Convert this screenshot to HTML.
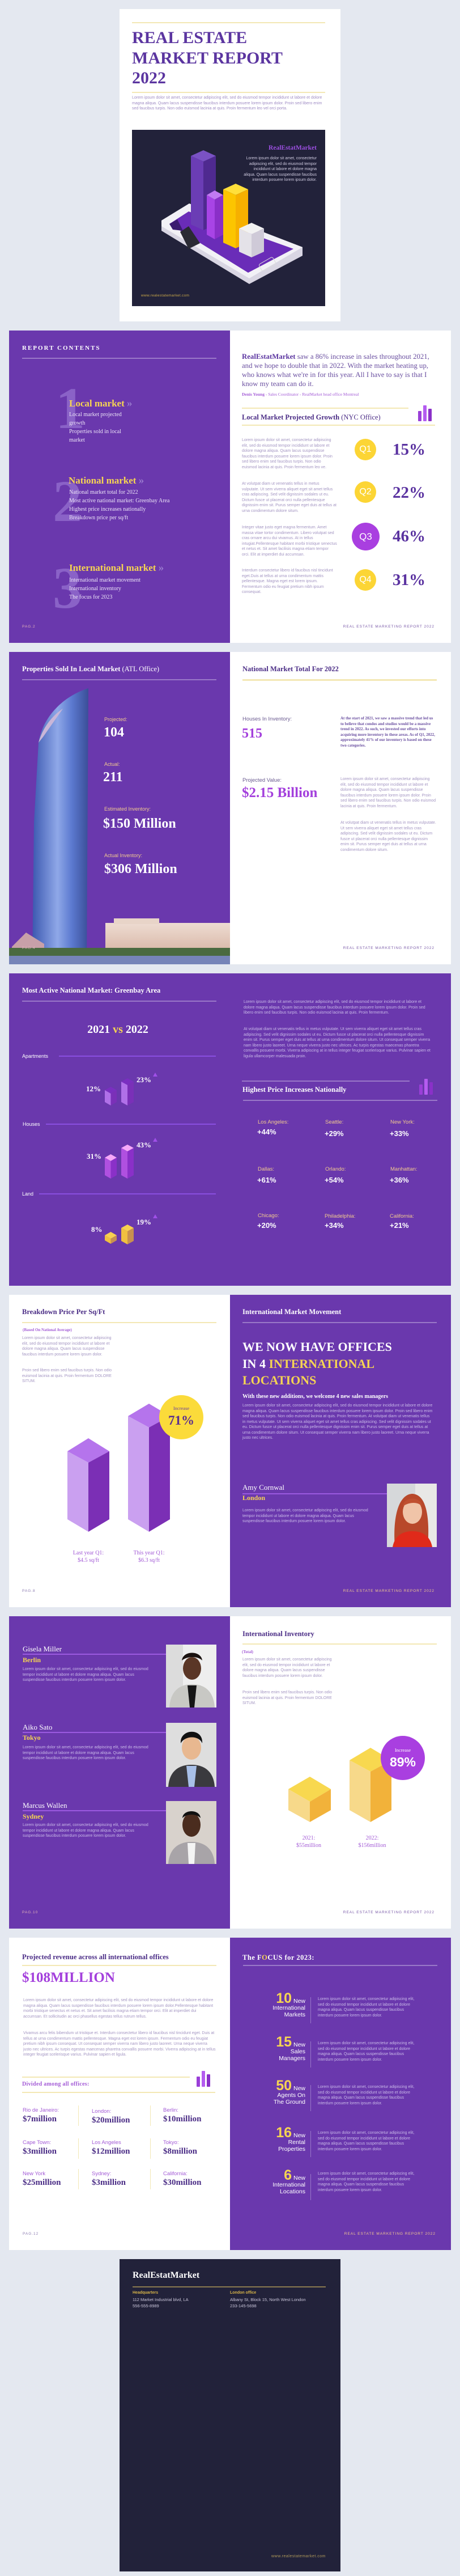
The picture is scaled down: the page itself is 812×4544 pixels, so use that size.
<!DOCTYPE html>
<html><head><meta charset="utf-8">
<style>
*{margin:0;padding:0;box-sizing:border-box}
body{width:812px;height:4544px;background:#e4e8f0;position:relative;overflow:hidden;font-family:"Liberation Sans",sans-serif}
.pg{position:absolute;width:390px;height:551px;overflow:hidden}
.pu{background:#6a38ad}
.wh{background:#fff}
.dk{background:#22223a}
.a{position:absolute}
.sf{font-family:"Liberation Serif",serif}
.h{position:absolute;left:23px;top:24px;font:bold 12.5px/12px "Liberation Serif",serif;white-space:nowrap}
.ln{position:absolute;left:23px;width:343px;top:48px;height:2px}
.lp{background:#9a78c8}
.ly{background:#f3e8b4}
.ft{position:absolute;top:519px;font-size:6.5px;line-height:7px;letter-spacing:1px;white-space:nowrap}
.tx{position:absolute;font-size:7px;line-height:9.5px;color:#a395c2}
.txl{position:absolute;font-size:7px;line-height:9.5px;color:#c9b9e8}
</style></head><body>

<!-- COVER -->
<div class="pg wh" style="left:211px;top:16px">
  <div class="a ly" style="left:22px;top:23px;width:341px;height:2px"></div>
  <div class="a sf" style="left:22px;top:33px;font-weight:bold;font-size:30px;line-height:35.5px;color:#5b35a0">REAL ESTATE<br>MARKET REPORT<br>2022</div>
  <div class="a ly" style="left:22px;top:146px;width:341px;height:2px"></div>
  <div class="tx" style="left:22px;top:152px;width:341px;color:#9f8cc4">Lorem ipsum dolor sit amet, consectetur adipiscing elit, sed do eiusmod tempor incididunt ut labore et dolore magna aliqua. Quam lacus suspendisse faucibus interdum posuere lorem ipsum dolor. Proin sed libero enim sed faucibus turpis. Non odio euismod lacinia at quis. Proin fermentum leo vel orci porta.</div>
  <div class="a dk" style="left:22px;top:213px;width:341px;height:311px">
    <svg width="341" height="311" style="position:absolute;left:0;top:0">
      <polygon points="52,160 101,130 301,207 301,222 207,272 52,178" fill="#d9d6e3"/>
      <polygon points="52,160 101,130 301,207 207,262 52,170" fill="#f2f1f6"/>
      <polygon points="66,166 100,144 285,210 205,252" fill="#6a2cb8"/>
      <polygon points="85,180 100,170 120,200 100,210" fill="#2a2a34"/>
      <polygon points="66,166 80,158 90,178 72,176" fill="#3a1a70"/>
      <rect x="225" y="230" width="28" height="14" rx="3" transform="rotate(-30 239 237)" fill="none" stroke="#ddd" stroke-width="1"/>
      <!-- tall purple -->
      <polygon points="104,46 126,36 148,46 126,56" fill="#7a52c4"/>
      <polygon points="104,46 126,56 126,177 104,167" fill="#6b3db5"/>
      <polygon points="126,56 148,46 148,167 126,177" fill="#4f2a90"/>
      <!-- violet -->
      <polygon points="132,115 146,107 161,115 146,123" fill="#c27af2"/>
      <polygon points="132,115 146,123 146,193 132,185" fill="#a844e6"/>
      <polygon points="146,123 161,115 161,185 146,193" fill="#8a2fc8"/>
      <!-- yellow -->
      <polygon points="161,105 183,95 205,105 183,115" fill="#ffdf3a"/>
      <polygon points="161,105 183,115 183,209 161,199" fill="#fcc500"/>
      <polygon points="183,115 205,105 205,199 183,209" fill="#f6b000"/>
      <!-- white -->
      <polygon points="189,174 211,164 233,174 211,184" fill="#f2f2f2"/>
      <polygon points="189,174 211,184 211,225 189,215" fill="#e4e2e8"/>
      <polygon points="211,184 233,174 233,215 211,225" fill="#cfcad8"/>
    </svg>
    <div class="a sf" style="right:15px;top:26px;font-weight:bold;font-size:11.5px;color:#9b4fe0">RealEstatMarket</div>
    <div class="a" style="right:15px;top:46px;width:130px;text-align:right;font-size:7px;line-height:9.6px;color:#cfcbe0">Lorem ipsum dolor sit amet, consectetur adipiscing elit, sed do eiusmod tempor incididunt ut labore et dolore magna aliqua. Quam lacus suspendisse faucibus interdum posuere lorem ipsum dolor.</div>
    <div class="a" style="left:16px;top:289px;font-size:6.5px;color:#c9a84a;letter-spacing:0.3px">www.realestatemarket.com</div>
  </div>
</div>

<!-- PAGE 2 LEFT -->
<div class="pg pu" style="left:16px;top:583px">
  <div class="a sf" style="left:23px;top:25px;font-weight:bold;font-size:11px;letter-spacing:2px;color:#fff">REPORT CONTENTS</div>
  <div class="ln lp"></div>
  <div class="a sf" style="left:82px;top:86px;font-weight:bold;font-size:104px;line-height:104px;color:#8a62c7">1</div>
  <div class="a sf" style="left:106px;top:120px;font-weight:bold;font-size:17px;line-height:17px;color:#f6d452;white-space:nowrap">Local market <span style="color:#9b7cd0;font-size:19px">»</span></div>
  <div class="a sf" style="left:106px;top:141px;width:112px;font-size:10px;line-height:15px;color:#ece4f7">Local market projected growth<br>Properties sold in local market</div>
  <div class="a sf" style="left:77px;top:250px;font-weight:bold;font-size:104px;line-height:104px;color:#8a62c7">2</div>
  <div class="a sf" style="left:105px;top:256px;font-weight:bold;font-size:17px;line-height:17px;color:#f6d452;white-space:nowrap">National market <span style="color:#9b7cd0;font-size:19px">»</span></div>
  <div class="a sf" style="left:106px;top:278px;width:230px;font-size:10px;line-height:15px;color:#ece4f7">National market total for 2022<br>Most active national market: Greenbay Area<br>Highest price increases nationally<br>Breakdown price per sq/ft</div>
  <div class="a sf" style="left:77px;top:403px;font-weight:bold;font-size:104px;line-height:104px;color:#8a62c7">3</div>
  <div class="a sf" style="left:106px;top:410px;font-weight:bold;font-size:17px;line-height:17px;color:#f6d452;white-space:nowrap">International market <span style="color:#9b7cd0;font-size:19px">»</span></div>
  <div class="a sf" style="left:106px;top:433px;width:230px;font-size:10px;line-height:15px;color:#ece4f7">International market movement<br>International inventory<br>The focus for 2023</div>
  <div class="ft" style="left:23px;color:#e0b0b8">PAG.2</div>
</div>

<!-- PAGE 2 RIGHT -->
<div class="pg wh" style="left:406px;top:583px">
  <div class="a sf" style="left:21px;top:38px;width:340px;font-size:12.8px;line-height:16px;color:#6a4fa0"><b style="color:#5b35a0">RealEstatMarket</b> saw a 86% increase in sales throughout 2021, and we hope to double that in 2022. With the market heating up, who knows what we're in for this year. All I have to say is that I know my team can do it.</div>
  <div class="a sf" style="left:21px;top:108px;font-size:7.5px;color:#a35bd6;white-space:nowrap"><b>Denis Young</b> - Sales Coordinator - RealMarket head office Montreal</div>
  <div class="a ly" style="left:21px;top:136px;width:294px;height:2px"></div>
  <div class="a sf" style="left:21px;top:147px;font-size:12.5px;line-height:12px;color:#4b2d86;white-space:nowrap"><b>Local Market Projected Growth</b> (NYC Office)</div>
  <svg class="a" style="left:330px;top:130px" width="30" height="32"><rect x="2" y="12" width="6" height="18" rx="1" fill="#9a3fd8"/><rect x="11" y="2" width="6" height="28" rx="1" fill="#b45cf0"/><rect x="20" y="8" width="6" height="22" rx="1" fill="#8a30c8"/></svg>
  <div class="a ly" style="left:21px;top:166px;width:341px;height:2px"></div>
  <div class="tx" style="left:21px;top:189px;width:168px">Lorem ipsum dolor sit amet, consectetur adipiscing elit, sed do eiusmod tempor incididunt ut labore et dolore magna aliqua. Quam lacus suspendisse faucibus interdum posuere lorem ipsum dolor. Proin sed libero enim sed faucibus turpis. Non odio euismod lacinia at quis. Proin fermentum leo ve.</div>
  <div class="tx" style="left:21px;top:266px;width:168px">At volutpat diam ut venenatis tellus in metus vulputate. Ut sem viverra aliquet eget sit amet tellus cras adipiscing. Sed velit dignissim sodales ut eu. Dictum fusce ut placerat orci nulla pellentesque dignissim enim sit. Purus semper eget duis at tellus at urna condimentum dolore situm.</div>
  <div class="tx" style="left:21px;top:343px;width:168px">Integer vitae justo eget magna fermentum. Amet massa vitae tortor condimentum. Libero volutpat sed cras ornare arcu dui vivamus. At in tellus intugiat.Pellentesque habitant morbi tristique senectus et netus et. Sit amet facilisis magna etiam tempor orci. Elit at imperdiet dui accumsan.</div>
  <div class="tx" style="left:21px;top:419px;width:168px">Interdum consectetur libero id faucibus nisl tincidunt eget.Duis at tellus at urna condimentum mattis pellentesque. Magna eget est lorem ipsum. Fermentum odio eu feugiat pretium nibh ipsum consequat.</div>
  <div class="a" style="left:220px;top:191px;width:38px;height:38px;border-radius:50%;background:#fcd535;color:#fff;font-size:16px;line-height:38px;text-align:center">Q1</div>
  <div class="a" style="left:220px;top:266px;width:38px;height:38px;border-radius:50%;background:#fcd535;color:#fff;font-size:16px;line-height:38px;text-align:center">Q2</div>
  <div class="a" style="left:215px;top:339px;width:49px;height:49px;border-radius:50%;background:#a93fe0;color:#fff;font-size:17px;line-height:49px;text-align:center">Q3</div>
  <div class="a" style="left:220px;top:421px;width:38px;height:38px;border-radius:50%;background:#fcd535;color:#fff;font-size:16px;line-height:38px;text-align:center">Q4</div>
  <div class="a sf" style="left:287px;top:196px;font-weight:bold;font-size:29px;line-height:28px;color:#5a32a0">15%</div>
  <div class="a sf" style="left:287px;top:272px;font-weight:bold;font-size:29px;line-height:28px;color:#5a32a0">22%</div>
  <div class="a sf" style="left:287px;top:349px;font-weight:bold;font-size:29px;line-height:28px;color:#5a32a0">46%</div>
  <div class="a sf" style="left:287px;top:426px;font-weight:bold;font-size:29px;line-height:28px;color:#5a32a0">31%</div>
  <div class="ft" style="right:29px;color:#7a5aa8">REAL ESTATE MARKETING REPORT 2022</div>
</div>

<!-- PAGE 3 LEFT -->
<div class="pg pu" style="left:16px;top:1150px">
  <div class="h" style="color:#fff">Properties Sold In Local Market <span style="font-weight:normal">(ATL Office)</span></div>
  <div class="ln lp"></div>
  <svg class="a" style="left:0;top:0" width="390" height="551">
    <defs>
      <linearGradient id="gt" x1="0" x2="1" y1="0" y2="0"><stop offset="0" stop-color="#3c58b0"/><stop offset="0.45" stop-color="#8fa8e8"/><stop offset="0.7" stop-color="#5c7ad0"/><stop offset="1" stop-color="#3a4e98"/></linearGradient>
      <linearGradient id="gb" x1="0" x2="0" y1="0" y2="1"><stop offset="0" stop-color="#eedcd2"/><stop offset="1" stop-color="#d9b8a8"/></linearGradient>
    </defs>
    <path d="M52,160 C58,120 90,80 140,64 L137,551 L41,551 L44,300 Z" fill="url(#gt)"/>
    <path d="M52,160 C60,130 80,110 95,100 L60,150 Z" fill="#c9b6d8"/>
    <rect x="170" y="478" width="220" height="50" fill="url(#gb)"/>
    <rect x="185" y="470" width="80" height="10" fill="#e8d4c8"/>
    <path d="M5,520 L30,495 L62,515 L62,530 L5,530 Z" fill="#c8a0a8"/>
    <rect x="0" y="522" width="390" height="14" fill="#4a6a40"/>
    <rect x="0" y="536" width="390" height="15" fill="#7684b8"/>
  </svg>
  <div class="a" style="left:168px;top:113px;font-size:9px;line-height:12px;color:#f2c98f">Projected:</div>
  <div class="a sf" style="left:167px;top:130px;font-weight:bold;font-size:24px;line-height:24px;color:#fff">104</div>
  <div class="a" style="left:168px;top:192px;font-size:9px;line-height:12px;color:#f2c98f">Actual:</div>
  <div class="a sf" style="left:166px;top:209px;font-weight:bold;font-size:24px;line-height:24px;color:#fff">211</div>
  <div class="a" style="left:168px;top:271px;font-size:9px;line-height:12px;color:#f2c98f">Estimated Inventory:</div>
  <div class="a sf" style="left:166px;top:291px;font-weight:bold;font-size:24px;line-height:24px;color:#fff;white-space:nowrap">$150 Million</div>
  <div class="a" style="left:168px;top:353px;font-size:9px;line-height:12px;color:#f2c98f">Actual Inventory:</div>
  <div class="a sf" style="left:168px;top:371px;font-weight:bold;font-size:24px;line-height:24px;color:#fff;white-space:nowrap">$306 Million</div>
  <div class="ft" style="left:23px;color:#e0b0b8">PAG.4</div>
</div>

<!-- PAGE 3 RIGHT -->
<div class="pg wh" style="left:406px;top:1150px">
  <div class="h" style="left:22px;color:#4b2d86">National Market Total For 2022</div>
  <div class="ln ly" style="left:22px;height:2.5px"></div>
  <div class="a" style="left:22px;top:113px;font-size:9.5px;line-height:12px;color:#6a5a90">Houses In Inventory:</div>
  <div class="a sf" style="left:21px;top:132px;font-weight:bold;font-size:24px;line-height:24px;color:#a33fdc">515</div>
  <div class="a sf" style="left:195px;top:113px;width:170px;font-weight:bold;font-size:7px;line-height:9.6px;color:#6a4fa0">At the start of 2021, we saw a massive trend that led us to believe that condos and studios would be a massive trend in 2022. As such, we invested our efforts into acquiring more inventory in these areas. As of Q1, 2022, approximately 41% of our inventory is based on these two categories.</div>
  <div class="a" style="left:22px;top:221px;font-size:9.5px;line-height:12px;color:#6a5a90">Projected Value:</div>
  <div class="a sf" style="left:21px;top:236px;font-weight:bold;font-size:25px;line-height:25px;color:#a33fdc;white-space:nowrap">$2.15 Billion</div>
  <div class="tx" style="left:195px;top:220px;width:170px">Lorem ipsum dolor sit amet, consectetur adipiscing elit, sed do eiusmod tempor incididunt ut labore et dolore magna aliqua. Quam lacus suspendisse faucibus interdum posuere lorem ipsum dolor. Proin sed libero enim sed faucibus turpis. Non odio euismod lacinia at quis. Proin fermentum.</div>
  <div class="tx" style="left:195px;top:297px;width:170px">At volutpat diam ut venenatis tellus in metus vulputate. Ut sem viverra aliquet eget sit amet tellus cras adipiscing. Sed velit dignissim sodales ut eu. Dictum fusce ut placerat orci nulla pellentesque dignissim enim sit. Purus semper eget duis at tellus at urna condimentum dolore situm.</div>
  <div class="ft" style="right:29px;color:#7a5aa8">REAL ESTATE MARKETING REPORT 2022</div>
</div>

<!-- PAGE 4 (spread purple) -->
<div class="pg pu" style="left:16px;top:1717px;width:780px">
  <div class="h" style="color:#fff">Most Active National Market: Greenbay Area</div>
  <div class="ln lp"></div>
  <div class="a sf" style="left:92px;top:89px;width:200px;text-align:center;font-weight:bold;font-size:20px;line-height:20px;color:#fff">2021 <span style="color:#f6d452">vs</span> 2022</div>
  <div class="a" style="left:23px;top:140px;font-size:9px;line-height:12px;color:#fff">Apartments</div>
  <div class="a" style="left:88px;top:145px;width:277px;height:1.5px;background:#8a4fe0"></div>
  <div class="a" style="left:24px;top:260px;font-size:9px;line-height:12px;color:#fff">Houses</div>
  <div class="a" style="left:65px;top:265px;width:300px;height:1.5px;background:#8a4fe0"></div>
  <div class="a" style="left:23px;top:383px;font-size:9px;line-height:12px;color:#fff">Land</div>
  <div class="a" style="left:53px;top:388px;width:312px;height:1.5px;background:#8a4fe0"></div>
  <svg class="a" style="left:0;top:0" width="390" height="551">
    <polygon points="169,206 179.5,200 190,206 179.5,212" fill="#7a2fc0"/>
    <polygon points="169,206 179.5,212 179.5,233 169,227" fill="#b070e8"/>
    <polygon points="179.5,212 190,206 190,227 179.5,233" fill="#7a30b8"/>
    <polygon points="198,191 209,185 220,191 209,197" fill="#7a2fc0"/>
    <polygon points="198,191 209,197 209,233 198,227" fill="#b070e8"/>
    <polygon points="209,197 220,191 220,227 209,233" fill="#7a30b8"/>
    <polygon points="254,182 258,175 262,182" fill="#a050e8"/>
    <polygon points="169,325 179.5,319 190,325 179.5,331" fill="#f5a8f8"/>
    <polygon points="169,325 179.5,331 179.5,362 169,356" fill="#b050e0"/>
    <polygon points="179.5,331 190,325 190,356 179.5,362" fill="#8a30c8"/>
    <polygon points="198,308 209,302 220,308 209,314" fill="#f5a8f8"/>
    <polygon points="198,308 209,314 209,362 198,356" fill="#b050e0"/>
    <polygon points="209,314 220,308 220,356 209,362" fill="#8a30c8"/>
    <polygon points="254,297 258,290 262,297" fill="#a050e8"/>
    <polygon points="169,462 179.5,456 190,462 179.5,468" fill="#f8d050"/>
    <polygon points="169,462 179.5,468 179.5,477 169,471" fill="#f0c040"/>
    <polygon points="179.5,468 190,462 190,471 179.5,477" fill="#c89050"/>
    <polygon points="198,449 209,443 220,449 209,455" fill="#f8d050"/>
    <polygon points="198,449 209,455 209,478 198,472" fill="#f0c040"/>
    <polygon points="209,455 220,449 220,472 209,478" fill="#c89050"/>
    <polygon points="254,432 258,425 262,432" fill="#a050e8"/>
  </svg>
  <div class="a sf" style="left:136px;top:197px;font-weight:bold;font-size:13px;line-height:14px;color:#fff">12%</div>
  <div class="a sf" style="left:225px;top:181px;font-weight:bold;font-size:13px;line-height:14px;color:#fff">23%</div>
  <div class="a sf" style="left:137px;top:316px;font-weight:bold;font-size:13px;line-height:14px;color:#fff">31%</div>
  <div class="a sf" style="left:225px;top:296px;font-weight:bold;font-size:13px;line-height:14px;color:#fff">43%</div>
  <div class="a sf" style="left:145px;top:445px;font-weight:bold;font-size:13px;line-height:14px;color:#fff">8%</div>
  <div class="a sf" style="left:225px;top:432px;font-weight:bold;font-size:13px;line-height:14px;color:#fff">19%</div>

  <div class="txl" style="left:414px;top:46px;width:335px">Lorem ipsum dolor sit amet, consectetur adipiscing elit, sed do eiusmod tempor incididunt ut labore et dolore magna aliqua. Quam lacus suspendisse faucibus interdum posuere lorem ipsum dolor. Proin sed libero enim sed faucibus turpis. Non odio euismod lacinia at quis. Proin fermentum.</div>
  <div class="txl" style="left:414px;top:94px;width:335px">At volutpat diam ut venenatis tellus in metus vulputate. Ut sem viverra aliquet eget sit amet tellus cras adipiscing. Sed velit dignissim sodales ut eu. Dictum fusce ut placerat orci nulla pellentesque dignissim enim sit. Purus semper eget duis at tellus at urna condimentum dolore situm. Ut consequat semper viverra nam libero justo laoreet. Urna neque viverra justo nec ultrices. Ac turpis egestas maecenas pharetra convallis posuere morbi. Viverra adipiscing at in tellus integer feugiat scelerisque varius. Pulvinar sapien et ligula ullamcorper malesuada proin.</div>
  <div class="a" style="left:411px;top:189px;width:296px;height:2px;background:#9a78c8"></div>
  <div class="a sf" style="left:412px;top:199px;font-weight:bold;font-size:12.5px;line-height:12px;color:#fff;white-space:nowrap">Highest Price Increases Nationally</div>
  <svg class="a" style="left:722px;top:184px" width="30" height="32"><rect x="2" y="12" width="6" height="18" rx="1" fill="#9a3fd8"/><rect x="11" y="2" width="6" height="28" rx="1" fill="#b45cf0"/><rect x="20" y="8" width="6" height="22" rx="1" fill="#8a30c8"/></svg>
  <div class="a" style="left:413px;top:223px;width:343px;height:2px;background:#9a78c8"></div>
  <div class="a" style="left:439px;top:257px;font-size:9.5px;line-height:12px;color:#f2c98f">Los Angeles:</div>
  <div class="a" style="left:558px;top:257px;font-size:9.5px;line-height:12px;color:#f2c98f">Seattle:</div>
  <div class="a" style="left:673px;top:257px;font-size:9.5px;line-height:12px;color:#f2c98f">New York:</div>
  <div class="a" style="left:438px;top:273px;font-weight:bold;font-size:13px;line-height:14px;color:#fff">+44%</div>
  <div class="a" style="left:557px;top:276px;font-weight:bold;font-size:13px;line-height:14px;color:#fff">+29%</div>
  <div class="a" style="left:672px;top:276px;font-weight:bold;font-size:13px;line-height:14px;color:#fff">+33%</div>
  <div class="a" style="left:439px;top:340px;font-size:9.5px;line-height:12px;color:#f2c98f">Dallas:</div>
  <div class="a" style="left:558px;top:340px;font-size:9.5px;line-height:12px;color:#f2c98f">Orlando:</div>
  <div class="a" style="left:673px;top:340px;font-size:9.5px;line-height:12px;color:#f2c98f">Manhattan:</div>
  <div class="a" style="left:438px;top:358px;font-weight:bold;font-size:13px;line-height:14px;color:#fff">+61%</div>
  <div class="a" style="left:557px;top:358px;font-weight:bold;font-size:13px;line-height:14px;color:#fff">+54%</div>
  <div class="a" style="left:672px;top:358px;font-weight:bold;font-size:13px;line-height:14px;color:#fff">+36%</div>
  <div class="a" style="left:439px;top:422px;font-size:9.5px;line-height:12px;color:#f2c98f">Chicago:</div>
  <div class="a" style="left:557px;top:423px;font-size:9.5px;line-height:12px;color:#f2c98f">Philadelphia:</div>
  <div class="a" style="left:672px;top:423px;font-size:9.5px;line-height:12px;color:#f2c98f">California:</div>
  <div class="a" style="left:438px;top:438px;font-weight:bold;font-size:13px;line-height:14px;color:#fff">+20%</div>
  <div class="a" style="left:557px;top:438px;font-weight:bold;font-size:13px;line-height:14px;color:#fff">+34%</div>
  <div class="a" style="left:672px;top:438px;font-weight:bold;font-size:13px;line-height:14px;color:#fff">+21%</div>
</div>

<!-- PAGE 5 LEFT -->
<div class="pg wh" style="left:16px;top:2284px">
  <div class="h" style="color:#4b2d86">Breakdown Price Per Sq/Ft</div>
  <div class="ln ly"></div>
  <div class="a sf" style="left:24px;top:58px;font-weight:bold;font-size:7px;color:#a35bd6">(Based On National Average)</div>
  <div class="tx" style="left:23px;top:72px;width:168px">Lorem ipsum dolor sit amet, consectetur adipiscing elit, sed do eiusmod tempor incididunt ut labore et dolore magna aliqua. Quam lacus suspendisse faucibus interdum posuere lorem ipsum dolor.</div>
  <div class="tx" style="left:23px;top:129px;width:160px">Proin sed libero enim sed faucibus turpis. Non odio euismod lacinia at quis. Proin fermentum DOLORE SITUM.</div>
  <svg class="a" style="left:0;top:0" width="390" height="551">
    <polygon points="103,276 140,253 177,276 140,296" fill="#b574ec"/>
    <polygon points="103,276 140,296 140,418 103,396" fill="#caa0f0"/>
    <polygon points="140,296 177,276 177,396 140,418" fill="#7b2fb5"/>
    <polygon points="210,214 247,192 284,214 247,234" fill="#b574ec"/>
    <polygon points="210,214 247,234 247,418 210,396" fill="#caa0f0"/>
    <polygon points="247,234 284,214 284,396 247,418" fill="#7b2fb5"/>
  </svg>
  <div class="a" style="left:265px;top:177px;width:78px;height:78px;border-radius:50%;background:#fbdb3a"></div>
  <div class="a sf" style="left:265px;top:195px;width:78px;text-align:center;font-size:8.5px;color:#6a3fa0">Increase</div>
  <div class="a sf" style="left:265px;top:210px;width:78px;text-align:center;font-weight:bold;font-size:23px;line-height:24px;color:#5a2d90">71%</div>
  <div class="a sf" style="left:90px;top:450px;width:100px;text-align:center;font-size:10px;line-height:12.5px;color:#a35bd6">Last year Q1:<br>$4.5 sq/ft</div>
  <div class="a sf" style="left:197px;top:450px;width:100px;text-align:center;font-size:10px;line-height:12.5px;color:#a35bd6">This year Q1:<br>$6.3 sq/ft</div>
  <div class="ft" style="left:23px;color:#8a7ab0">PAG.8</div>
</div>

<!-- PAGE 5 RIGHT -->
<div class="pg pu" style="left:406px;top:2284px">
  <div class="h" style="left:22px;color:#fff">International Market Movement</div>
  <div class="ln lp" style="left:22px"></div>
  <div class="a sf" style="left:22px;top:77px;font-weight:bold;font-size:22px;line-height:29.5px;color:#fff;white-space:nowrap">WE NOW HAVE OFFICES<br>IN 4 <span style="color:#f6d452">INTERNATIONAL<br>LOCATIONS</span></div>
  <div class="a sf" style="left:22px;top:174px;font-weight:bold;font-size:10px;line-height:12px;color:#fff;white-space:nowrap">With these new additions, we welcome 4 new sales managers</div>
  <div class="txl" style="left:22px;top:191px;width:336px">Lorem ipsum dolor sit amet, consectetur adipiscing elit, sed do eiusmod tempor incididunt ut labore et dolore magna aliqua. Quam lacus suspendisse faucibus interdum posuere lorem ipsum dolor. Proin sed libero enim sed faucibus turpis. Non odio euismod lacinia at quis. Proin fermentum. At volutpat diam ut venenatis tellus in metus vulputate. Ut sem viverra aliquet eget sit amet tellus cras adipiscing. Sed velit dignissim sodales ut eu. Dictum fusce ut placerat orci nulla pellentesque dignissim enim sit. Purus semper eget duis at tellus at urna condimentum dolore situm. Ut consequat semper viverra nam libero justo laoreet. Urna neque viverra justo nec ultrices.</div>
  <div class="a sf" style="left:22px;top:333px;font-size:13px;line-height:13px;color:#fff">Amy Cornwal</div>
  <div class="a" style="left:22px;top:350px;width:265px;height:1.5px;background:#9b5ae0"></div>
  <div class="a sf" style="left:22px;top:352px;font-weight:bold;font-size:12px;line-height:12px;color:#f6d452">London</div>
  <div class="txl" style="left:22px;top:376px;width:228px">Lorem ipsum dolor sit amet, consectetur adipiscing elit, sed do eiusmod tempor incididunt ut labore et dolore magna aliqua. Quam lacus suspendisse faucibus interdum posuere lorem ipsum dolor.</div>
  <svg class="a" style="left:277px;top:333px" width="88" height="112">
    <rect width="88" height="112" fill="#d6d8da"/><rect x="50" width="38" height="112" fill="#e8e8e6"/>
    <path d="M14,112 C10,60 20,20 44,18 C70,18 76,60 72,112 Z" fill="#b8482a"/>
    <ellipse cx="45" cy="50" rx="17" ry="21" fill="#f0c4a8"/>
    <path d="M10,112 C14,90 30,84 45,84 C60,84 76,90 80,112 Z" fill="#e02a1a"/>
    <path d="M28,40 C30,22 60,22 62,40 C55,32 40,32 28,40 Z" fill="#c05030"/>
  </svg>
  <div class="ft" style="right:29px;color:#f2c98f">REAL ESTATE MARKETING REPORT 2022</div>
</div>

<!-- PAGE 6 LEFT -->
<div class="pg pu" style="left:16px;top:2851px">
  <div class="a sf" style="left:24px;top:51px;font-size:13px;line-height:13px;color:#fff">Gisela Miller</div>
  <div class="a" style="left:24px;top:66px;width:266px;height:1.5px;background:#9b5ae0"></div>
  <div class="a sf" style="left:24px;top:71px;font-weight:bold;font-size:12px;line-height:12px;color:#f6d452">Berlin</div>
  <div class="txl" style="left:24px;top:89px;width:228px">Lorem ipsum dolor sit amet, consectetur adipiscing elit, sed do eiusmod tempor incididunt ut labore et dolore magna aliqua. Quam lacus suspendisse faucibus interdum posuere lorem ipsum dolor.</div>
  <svg class="a" style="left:277px;top:50px" width="89" height="111">
    <rect width="89" height="111" fill="#eeeeee"/><rect width="30" height="111" fill="#dcdcdc"/>
    <ellipse cx="46" cy="42" rx="16" ry="20" fill="#5a3626"/>
    <path d="M28,28 C30,10 62,10 64,28 C56,20 38,20 28,28 Z" fill="#1a1210"/>
    <path d="M6,111 C8,80 26,70 46,70 C66,70 84,80 86,111 Z" fill="#c8c8c4"/>
    <path d="M38,72 L54,72 L50,111 L42,111 Z" fill="#151515"/>
  </svg>
  <div class="a sf" style="left:24px;top:189px;font-size:13px;line-height:13px;color:#fff">Aiko Sato</div>
  <div class="a" style="left:24px;top:204px;width:266px;height:1.5px;background:#9b5ae0"></div>
  <div class="a sf" style="left:24px;top:208px;font-weight:bold;font-size:12px;line-height:12px;color:#f6d452">Tokyo</div>
  <div class="txl" style="left:24px;top:227px;width:228px">Lorem ipsum dolor sit amet, consectetur adipiscing elit, sed do eiusmod tempor incididunt ut labore et dolore magna aliqua. Quam lacus suspendisse faucibus interdum posuere lorem ipsum dolor.</div>
  <svg class="a" style="left:277px;top:188px" width="89" height="113">
    <rect width="89" height="113" fill="#dedede"/>
    <ellipse cx="45" cy="44" rx="17" ry="21" fill="#e8b890"/>
    <path d="M26,36 C24,10 66,8 64,36 C58,22 34,22 26,36 Z" fill="#111"/>
    <path d="M4,113 C6,84 24,74 45,74 C66,74 84,84 86,113 Z" fill="#3a3a3e"/>
    <path d="M36,76 L54,76 L50,113 L40,113 Z" fill="#a8c0e8"/>
  </svg>
  <div class="a sf" style="left:24px;top:327px;font-size:13px;line-height:13px;color:#fff">Marcus Wallen</div>
  <div class="a" style="left:24px;top:342px;width:266px;height:1.5px;background:#9b5ae0"></div>
  <div class="a sf" style="left:24px;top:347px;font-weight:bold;font-size:12px;line-height:12px;color:#f6d452">Sydney</div>
  <div class="txl" style="left:24px;top:364px;width:228px">Lorem ipsum dolor sit amet, consectetur adipiscing elit, sed do eiusmod tempor incididunt ut labore et dolore magna aliqua. Quam lacus suspendisse faucibus interdum posuere lorem ipsum dolor.</div>
  <svg class="a" style="left:277px;top:326px" width="89" height="111">
    <rect width="89" height="111" fill="#d8d2cc"/>
    <ellipse cx="45" cy="42" rx="16" ry="21" fill="#4a2c1e"/>
    <path d="M29,30 C30,14 60,14 61,30 C54,22 36,22 29,30 Z" fill="#111"/>
    <path d="M4,111 C6,82 24,72 45,72 C66,72 84,82 86,111 Z" fill="#a8a4a8"/>
    <path d="M38,74 L52,74 L50,111 L40,111 Z" fill="#f4f4f4"/>
  </svg>
  <div class="ft" style="left:23px;color:#e0b0b8">PAG.10</div>
</div>

<!-- PAGE 6 RIGHT -->
<div class="pg wh" style="left:406px;top:2851px">
  <div class="h" style="left:22px;top:25px;color:#4b2d86">International Inventory</div>
  <div class="ln ly" style="left:22px"></div>
  <div class="a sf" style="left:21px;top:59px;font-weight:bold;font-size:7px;color:#a35bd6">(Total)</div>
  <div class="tx" style="left:22px;top:72px;width:168px">Lorem ipsum dolor sit amet, consectetur adipiscing elit, sed do eiusmod tempor incididunt ut labore et dolore magna aliqua. Quam lacus suspendisse faucibus interdum posuere lorem ipsum dolor.</div>
  <div class="tx" style="left:22px;top:130px;width:160px">Proin sed libero enim sed faucibus turpis. Non odio euismod lacinia at quis. Proin fermentum DOLORE SITUM.</div>
  <svg class="a" style="left:0;top:0" width="390" height="551">
    <polygon points="103,305 141,283 178,305 141,327" fill="#f8d84f"/>
    <polygon points="103,305 141,327 141,363 103,342" fill="#f7d98a"/>
    <polygon points="141,327 178,305 178,342 141,363" fill="#f2b23a"/>
    <polygon points="211,254 248,232 285,254 248,274" fill="#f8d84f"/>
    <polygon points="211,254 248,274 248,363 211,342" fill="#f7d98a"/>
    <polygon points="248,274 285,254 285,342 248,363" fill="#f2b23a"/>
  </svg>
  <div class="a" style="left:266px;top:211px;width:78px;height:78px;border-radius:50%;background:#a93fe0"></div>
  <div class="a sf" style="left:266px;top:231px;width:78px;text-align:center;font-size:8.5px;color:#fff">Increase</div>
  <div class="a" style="left:266px;top:245px;width:78px;text-align:center;font-weight:bold;font-size:23px;line-height:24px;color:#fff">89%</div>
  <div class="a sf" style="left:89px;top:386px;width:100px;text-align:center;font-size:10px;line-height:12.5px;color:#a35bd6">2021:<br>$55million</div>
  <div class="a sf" style="left:201px;top:386px;width:100px;text-align:center;font-size:10px;line-height:12.5px;color:#a35bd6">2022:<br>$156million</div>
  <div class="ft" style="right:29px;color:#7a5aa8">REAL ESTATE MARKETING REPORT 2022</div>
</div>

<!-- PAGE 7 LEFT -->
<div class="pg wh" style="left:16px;top:3418px">
  <div class="h" style="top:28px;color:#4b2d86">Projected revenue across all international offices</div>
  <div class="ln ly"></div>
  <div class="a sf" style="left:23px;top:58px;font-weight:bold;font-size:25px;line-height:25px;color:#a33fdc">$108MILLION</div>
  <div class="tx" style="left:25px;top:106px;width:340px">Lorem ipsum dolor sit amet, consectetur adipiscing elit, sed do eiusmod tempor incididunt ut labore et dolore magna aliqua. Quam lacus suspendisse faucibus interdum posuere lorem ipsum dolor.Pellentesque habitant morbi tristique senectus et netus et. Sit amet facilisis magna etiam tempor orci. Elit at imperdiet dui accumsan. Et sollicitudin ac orci phasellus egestas tellus rutrum tellus.</div>
  <div class="tx" style="left:25px;top:164px;width:340px">Vivamus arcu felis bibendum ut tristique et. Interdum consectetur libero id faucibus nisl tincidunt eget. Duis at tellus at urna condimentum mattis pellentesque. Magna eget est lorem ipsum. Fermentum odio eu feugiat pretium nibh ipsum consequat. Ut consequat semper viverra nam libero justo laoreet. Urna neque viverra justo nec ultrices. Ac turpis egestas maecenas pharetra convallis posuere morbi. Viverra adipiscing at in tellus integer feugiat scelerisque varius. Pulvinar sapien et ligula.</div>
  <div class="a ly" style="left:23px;top:245px;width:296px;height:2px"></div>
  <svg class="a" style="left:329px;top:233px" width="30" height="32"><rect x="2" y="12" width="6" height="18" rx="1" fill="#9a3fd8"/><rect x="11" y="2" width="6" height="28" rx="1" fill="#b45cf0"/><rect x="20" y="8" width="6" height="22" rx="1" fill="#8a30c8"/></svg>
  <div class="a sf" style="left:23px;top:253px;font-weight:bold;font-size:10px;line-height:12px;letter-spacing:0.3px;color:#a35bd6">Divided among all offices:</div>
  <div class="a ly" style="left:23px;top:272px;width:341px;height:2px"></div>
  <div class="a" style="left:122px;top:296px;width:1px;height:36px;background:#f3e8b4"></div>
  <div class="a" style="left:249px;top:296px;width:1px;height:36px;background:#f3e8b4"></div>
  <div class="a" style="left:122px;top:354px;width:1px;height:36px;background:#f3e8b4"></div>
  <div class="a" style="left:249px;top:354px;width:1px;height:36px;background:#f3e8b4"></div>
  <div class="a" style="left:122px;top:408px;width:1px;height:36px;background:#f3e8b4"></div>
  <div class="a" style="left:249px;top:408px;width:1px;height:36px;background:#f3e8b4"></div>
  <div class="a" style="left:24px;top:299px;font-size:9.5px;line-height:12px;color:#a35bd6">Rio de Janeiro:</div>
  <div class="a" style="left:146px;top:301px;font-size:9.5px;line-height:12px;color:#a35bd6">London:</div>
  <div class="a" style="left:272px;top:299px;font-size:9.5px;line-height:12px;color:#a35bd6">Berlin:</div>
  <div class="a sf" style="left:24px;top:312px;font-weight:bold;font-size:15px;line-height:16px;color:#4b2d86">$7million</div>
  <div class="a sf" style="left:146px;top:314px;font-weight:bold;font-size:15px;line-height:16px;color:#4b2d86">$20million</div>
  <div class="a sf" style="left:272px;top:312px;font-weight:bold;font-size:15px;line-height:16px;color:#4b2d86">$10million</div>
  <div class="a" style="left:24px;top:356px;font-size:9.5px;line-height:12px;color:#a35bd6">Cape Town:</div>
  <div class="a" style="left:146px;top:356px;font-size:9.5px;line-height:12px;color:#a35bd6">Los Angeles</div>
  <div class="a" style="left:272px;top:356px;font-size:9.5px;line-height:12px;color:#a35bd6">Tokyo:</div>
  <div class="a sf" style="left:24px;top:369px;font-weight:bold;font-size:15px;line-height:16px;color:#4b2d86">$3million</div>
  <div class="a sf" style="left:146px;top:369px;font-weight:bold;font-size:15px;line-height:16px;color:#4b2d86">$12million</div>
  <div class="a sf" style="left:272px;top:369px;font-weight:bold;font-size:15px;line-height:16px;color:#4b2d86">$8million</div>
  <div class="a" style="left:24px;top:411px;font-size:9.5px;line-height:12px;color:#a35bd6">New York</div>
  <div class="a" style="left:146px;top:411px;font-size:9.5px;line-height:12px;color:#a35bd6">Sydney:</div>
  <div class="a" style="left:272px;top:411px;font-size:9.5px;line-height:12px;color:#a35bd6">California:</div>
  <div class="a sf" style="left:24px;top:424px;font-weight:bold;font-size:15px;line-height:16px;color:#4b2d86">$25million</div>
  <div class="a sf" style="left:146px;top:424px;font-weight:bold;font-size:15px;line-height:16px;color:#4b2d86">$3million</div>
  <div class="a sf" style="left:272px;top:424px;font-weight:bold;font-size:15px;line-height:16px;color:#4b2d86">$30million</div>
  <div class="ft" style="left:24px;color:#8a7ab0">PAG.12</div>
</div>

<!-- PAGE 7 RIGHT -->
<div class="pg pu" style="left:406px;top:3418px">
  <div class="h" style="left:22px;top:29px;letter-spacing:0.5px;color:#fff">The F<span style="color:#f6d452">O</span>CUS for 2023:</div>
  <div class="ln lp" style="left:23px"></div>

  <div class="a" style="right:257px;top:96px;text-align:right;color:#fff;font-size:10.5px;line-height:12px;white-space:nowrap"><span style="font-weight:bold;font-size:25px;line-height:22px;color:#f6d452">10</span> New<br>International<br>Markets</div>
  <div class="a" style="left:142px;top:105px;width:1px;height:46px;background:#9a78c8"></div>
  <div class="txl" style="left:155px;top:104px;width:172px">Lorem ipsum dolor sit amet, consectetur adipiscing elit, sed do eiusmod tempor incididunt ut labore et dolore magna aliqua. Quam lacus suspendisse faucibus interdum posuere lorem ipsum dolor.</div>

  <div class="a" style="right:257px;top:173px;text-align:right;color:#fff;font-size:10.5px;line-height:12px;white-space:nowrap"><span style="font-weight:bold;font-size:25px;line-height:22px;color:#f6d452">15</span> New<br>Sales<br>Managers</div>
  <div class="a" style="left:142px;top:183px;width:1px;height:46px;background:#9a78c8"></div>
  <div class="txl" style="left:155px;top:182px;width:172px">Lorem ipsum dolor sit amet, consectetur adipiscing elit, sed do eiusmod tempor incididunt ut labore et dolore magna aliqua. Quam lacus suspendisse faucibus interdum posuere lorem ipsum dolor.</div>

  <div class="a" style="right:257px;top:250px;text-align:right;color:#fff;font-size:10.5px;line-height:12px;white-space:nowrap"><span style="font-weight:bold;font-size:25px;line-height:22px;color:#f6d452">50</span> New<br>Agents On<br>The Ground</div>
  <div class="a" style="left:142px;top:260px;width:1px;height:46px;background:#9a78c8"></div>
  <div class="txl" style="left:155px;top:259px;width:172px">Lorem ipsum dolor sit amet, consectetur adipiscing elit, sed do eiusmod tempor incididunt ut labore et dolore magna aliqua. Quam lacus suspendisse faucibus interdum posuere lorem ipsum dolor.</div>

  <div class="a" style="right:257px;top:333px;text-align:right;color:#fff;font-size:10.5px;line-height:12px;white-space:nowrap"><span style="font-weight:bold;font-size:25px;line-height:22px;color:#f6d452">16</span> New<br>Rental<br>Properties</div>
  <div class="a" style="left:142px;top:341px;width:1px;height:46px;background:#9a78c8"></div>
  <div class="txl" style="left:155px;top:340px;width:172px">Lorem ipsum dolor sit amet, consectetur adipiscing elit, sed do eiusmod tempor incididunt ut labore et dolore magna aliqua. Quam lacus suspendisse faucibus interdum posuere lorem ipsum dolor.</div>

  <div class="a" style="right:257px;top:408px;text-align:right;color:#fff;font-size:10.5px;line-height:12px;white-space:nowrap"><span style="font-weight:bold;font-size:25px;line-height:22px;color:#f6d452">6</span> New<br>International<br>Locations</div>
  <div class="a" style="left:142px;top:417px;width:1px;height:46px;background:#9a78c8"></div>
  <div class="txl" style="left:155px;top:412px;width:172px">Lorem ipsum dolor sit amet, consectetur adipiscing elit, sed do eiusmod tempor incididunt ut labore et dolore magna aliqua. Quam lacus suspendisse faucibus interdum posuere lorem ipsum dolor.</div>
  <div class="ft" style="right:27px;color:#f2c98f">REAL ESTATE MARKETING REPORT 2022</div>
</div>

<!-- BACK COVER -->
<div class="pg dk" style="left:211px;top:3985px">
  <div class="a sf" style="left:23px;top:21px;font-weight:bold;font-size:16px;line-height:16px;color:#fff">RealEstatMarket</div>
  <div class="a" style="left:23px;top:48px;width:341px;height:2px;background:#8a7a50"></div>
  <div class="a" style="left:23px;top:56px;font-weight:bold;font-size:7px;color:#d9b64a">Headquarters</div>
  <div class="a" style="left:23px;top:66px;font-size:7.5px;line-height:11px;color:#c8c4d8">112 Market Industrial blvd, LA<br>556-555-8989</div>
  <div class="a" style="left:195px;top:56px;font-weight:bold;font-size:7px;color:#d9b64a">London office</div>
  <div class="a" style="left:195px;top:66px;font-size:7.5px;line-height:11px;color:#c8c4d8;white-space:nowrap">Albany St, Block 15, North West London<br>233-145-5698</div>
  <div class="a" style="right:26px;top:521px;font-size:7px;letter-spacing:0.5px;color:#b09a5a">www.realestatemarket.com</div>
</div>

</body></html>
